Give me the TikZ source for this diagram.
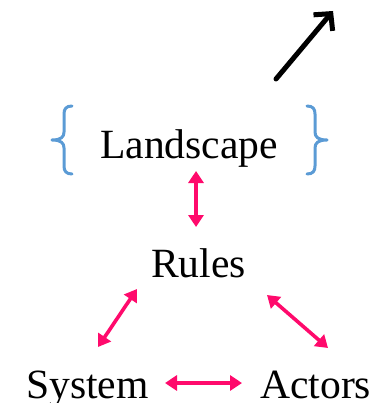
\documentclass[tikz,border=0pt]{standalone}
\usepackage{fontspec}
\setmainfont{Liberation Serif}
\usetikzlibrary{arrows.meta}
\definecolor{linkpink}{HTML}{FF0A6C}
\definecolor{braceblue}{HTML}{5B9BD5}
\begin{document}
\begin{tikzpicture}[x=1pt,y=-1pt,
  word/.style={inner sep=0pt, anchor=base west, font=\fontsize{41.6}{48}\selectfont},
  link/.style={linkpink, line width=3.6pt, {Triangle[width=15pt,length=12pt]}-{Triangle[width=15pt,length=12pt]}},
  bracket/.style={braceblue, line width=3pt, line cap=round, line join=round},
  pointer/.style={black, line width=5pt, line cap=round, -{Straight Barb[length=12pt,width=25pt,line join=miter]}}]
  \useasboundingbox (0,0) rectangle (369,403);

  % labels
  \node[word] (land) at (100,159) {Landscape};
  \node[word] (rules) at (151,277) {Rules};
  \node[word] (sys) at (26,398) {System};
  \node[word] (act) at (260,398) {Actors};

  % braces around the landscape label
  \draw[bracket] (72,106) .. controls (66,106) and (64,109) .. (64,114) -- (64,132)
    .. controls (64,137) and (61,140) .. (52,140)
    .. controls (61,140) and (64,143) .. (64,148) -- (64,166)
    .. controls (64,171) and (66,174) .. (72,174);
  \draw[bracket] (307,106) .. controls (313,106) and (315,109) .. (315,114) -- (315,132)
    .. controls (315,137) and (318,140) .. (327,140)
    .. controls (318,140) and (315,143) .. (315,148) -- (315,166)
    .. controls (315,171) and (313,174) .. (307,174);

  % two-way links
  \coordinate (lb) at (196,171);
  \coordinate (rt) at (196,227);
  \draw[link] (lb) -- (rt);
  \coordinate (rl) at (137,289);
  \coordinate (sl) at (98,347);
  \draw[link] (rl) -- (sl);
  \coordinate (rr) at (267,295);
  \coordinate (ar) at (328,348);
  \draw[link] (rr) -- (ar);
  \coordinate (sa) at (165,383);
  \coordinate (as) at (242,383);
  \draw[link] (sa) -- (as);

  % outward pointer
  \coordinate (p0) at (276,79);
  \coordinate (p1) at (333,11);
  \draw[pointer] (p0) -- (p1);
\end{tikzpicture}
\end{document}
